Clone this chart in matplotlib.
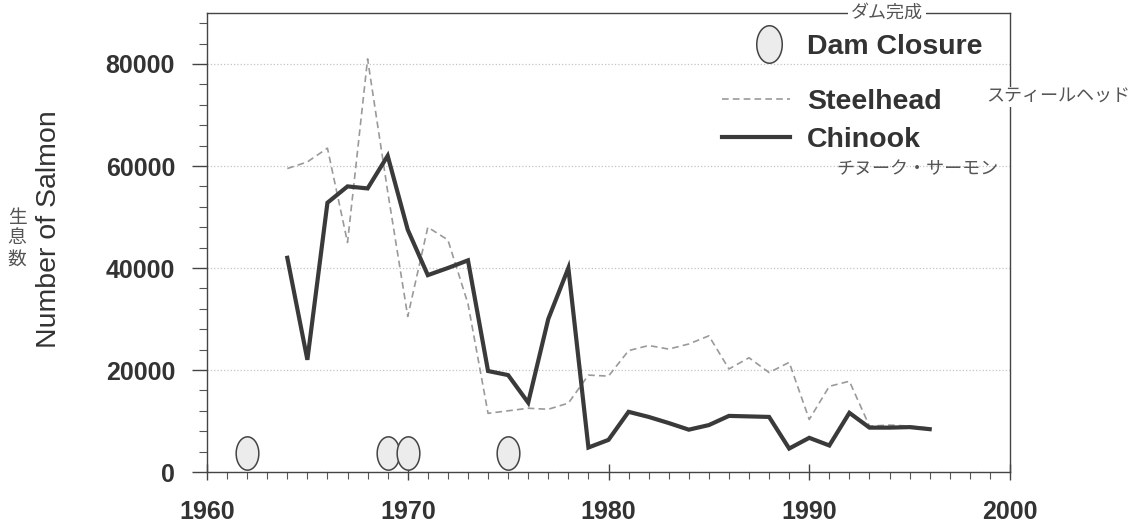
import numpy as np
import matplotlib
matplotlib.use('Agg')
import matplotlib.pyplot as plt
from matplotlib.path import Path
from matplotlib.lines import Line2D
from matplotlib.ticker import MultipleLocator

plt.rcParams['font.family'] = ['Liberation Sans', 'Noto Sans CJK JP', 'DejaVu Sans']

# data
years = list(range(1964, 1997))
chinook = [42000, 22000, 52800, 56000, 55600, 62000, 47500, 38600, 40000, 41500,
           19800, 19000, 13600, 30000, 40000, 4800, 6300, 11800, 10800, 9600,
           8300, 9200, 11000, 10900, 10800, 4600, 6700, 5200, 11600, 8700,
           8700, 8800, 8400]
steelhead = [59500, 60800, 63500, 45000, 81000, 55000, 30500, 48000, 45500, 33000,
             11500, 12000, 12500, 12300, 13500, 19000, 18800, 23800, 24800, 24100,
             25100, 26700, 20200, 22400, 19500, 21500, 10300, 16800, 17800, 9000,
             9200, 9000, 8600]
dam_years = [1962, 1969, 1970, 1975]
dam_level = [3700, 3700, 3700, 3700]

x_ticks = [1960, 1970, 1980, 1990, 2000]
y_ticks = [0, 20000, 40000, 60000, 80000]

ink = '#333333'

# upright ellipse marker
t = np.linspace(0, 2 * np.pi, 60)
ell = Path(np.column_stack([0.68 * np.cos(t), np.sin(t)]), closed=True)

fig = plt.figure(figsize=(11.39, 5.27), dpi=100)
ax = fig.add_axes([207 / 1139, 1 - 472 / 527, 803 / 1139, 459 / 527])

ax.plot(years, steelhead, color='#9a9a9a', lw=1.2, ls=(0, (4, 2.5)))
ax.plot(years, chinook, color='#3a3a3a', lw=3.0, solid_joinstyle='miter')
ax.plot(dam_years, dam_level, ls='none', marker=ell, ms=24,
        mfc='#ececec', mec='#444444', mew=1.1)

ax.set_xlim(1960, 2000)
ax.set_ylim(0, 90000)
ax.set_xticks(x_ticks)
ax.set_yticks(y_ticks)
ax.xaxis.set_minor_locator(MultipleLocator(1))
ax.yaxis.set_minor_locator(MultipleLocator(4000))
ax.grid(axis='y', which='major', color='#c4c4c4', ls=':', lw=0.9)

for s in ax.spines.values():
    s.set_color('#444444')
    s.set_linewidth(1.0)

ax.tick_params(axis='y', which='major', direction='out', length=11, width=1,
               color='#444444', pad=12, labelsize=18, labelcolor=ink)
ax.tick_params(axis='y', which='minor', direction='out', length=6, width=0.8,
               color='#555555')
ax.tick_params(axis='x', which='major', direction='inout', length=12, width=1,
               color='#444444', pad=14, labelsize=18, labelcolor=ink)
ax.tick_params(axis='x', which='minor', direction='out', length=5, width=0.8,
               color='#555555')
for lab in ax.get_xticklabels() + ax.get_yticklabels():
    lab.set_fontweight('bold')

ax.set_ylabel('Number of Salmon', fontsize=20.5, color=ink)
ax.yaxis.set_label_coords(-0.181, 0.53)
fig.text(17 / 1139, 1 - 238 / 527, '生\n息\n数', fontsize=13.5, color='#555555',
         ha='center', va='center', linespacing=1.0, family='Noto Sans CJK JP')

# legends
h_dam = Line2D([], [], ls='none', marker=ell, ms=27, mfc='#ececec',
               mec='#444444', mew=1.1)
leg1 = ax.legend([h_dam], ['Dam Closure'], loc='center left',
                 bbox_to_anchor=(0.648, 0.925), frameon=False, borderpad=0,
                 handlelength=1.9, handletextpad=0.4,
                 prop={'size': 20.5, 'weight': 'bold'})
for txt in leg1.get_texts():
    txt.set_color(ink)
ax.add_artist(leg1)

h_st = Line2D([], [], color='#9a9a9a', lw=1.2, ls=(0, (4, 2.5)))
h_ch = Line2D([], [], color='#3a3a3a', lw=3.0)
leg2 = ax.legend([h_st, h_ch], ['Steelhead', 'Chinook'], loc='center left',
                 bbox_to_anchor=(0.623, 0.765), frameon=False, borderpad=0,
                 handlelength=2.4, handletextpad=0.6, labelspacing=0.4,
                 prop={'size': 20.5, 'weight': 'bold'})
for txt in leg2.get_texts():
    txt.set_color(ink)

jp = dict(family='Noto Sans CJK JP', color='#555555', fontsize=13,
          transform=ax.transAxes, clip_on=False)
ax.text(0.847, 1.0, 'ダム完成', ha='center', va='center',
        bbox=dict(fc='white', ec='none', pad=2), **jp)
ax.text(0.970, 0.817, 'スティールヘッド', ha='left', va='center',
        bbox=dict(fc='white', ec='none', pad=1), **jp)
ax.text(0.885, 0.66, 'チヌーク・サーモン', ha='center', va='center', **jp)

fig.savefig('out.png', dpi=100)
